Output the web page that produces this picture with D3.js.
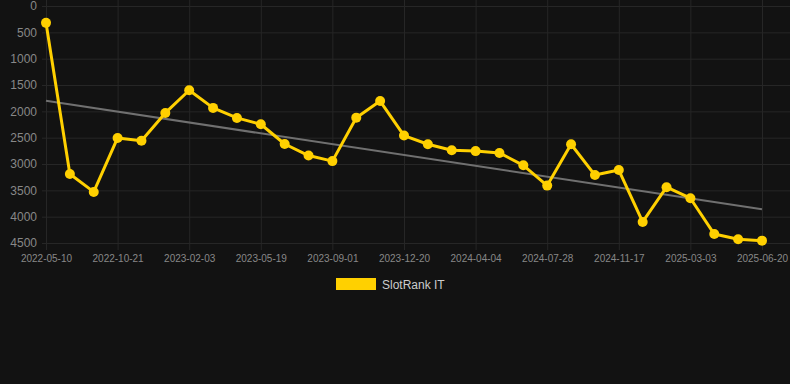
<!DOCTYPE html>
<html>
<head>
<meta charset="utf-8">
<script src="https://cdnjs.cloudflare.com/ajax/libs/d3/7.8.5/d3.min.js"></script>
<style>
    body { margin: 0; background: #121212; }
    svg { display: block; font-family: "Liberation Sans", Arial, sans-serif; }
    .axis path { display: none; }
</style>
</head>
<body>
<div id="chart"></div>
<script>
var dates = ["2022-05-10", "2022-06-24", "2022-08-30", "2022-10-21", "2022-11-26", "2022-12-30",
    "2023-02-03", "2023-03-10", "2023-04-14", "2023-05-19", "2023-06-23", "2023-07-28",
    "2023-09-01", "2023-10-10", "2023-11-15", "2023-12-20", "2024-01-24", "2024-02-28",
    "2024-04-04", "2024-05-12", "2024-06-20", "2024-07-28", "2024-09-03", "2024-10-10",
    "2024-11-17", "2024-12-22", "2025-01-27", "2025-03-03", "2025-04-08", "2025-05-14",
    "2025-06-20"];
var ranks = [320, 3190, 3530, 2505, 2560, 2030, 1600, 1935, 2125, 2245, 2620, 2840,
    2945, 2120, 1805, 2460, 2625, 2740, 2755, 2790, 3025, 3410, 2625, 3210,
    3115, 4100, 3440, 3650, 4330, 4430, 4455];
var trendEnds = [1800, 3860];
var yTicks = [0, 500, 1000, 1500, 2000, 2500, 3000, 3500, 4000, 4500];
var seriesName = "SlotRank IT";

var width = 790, height = 384;
var padding = { top: 6, right: 28, bottom: 141, left: 46 };

var svg = d3.select("#chart")
    .append("svg")
    .attr("width", width)
    .attr("height", height);

var xScale = d3.scalePoint()
    .domain(dates)
    .range([padding.left, width - padding.right]);
var yScale = d3.scaleLinear()
    .domain([0, 4500])
    .range([padding.top, height - padding.bottom]);

// vertical grid + x labels (every third date)
var xLabels = dates.filter(function(d, i) { return i % 3 == 0; });
var xAxis = d3.axisBottom()
    .scale(xScale)
    .tickValues(xLabels)
    .tickSize(height - padding.bottom + 7)
    .tickPadding(5);
svg.append("g")
    .attr("class", "axis")
    .attr("id", "x")
    .call(xAxis);
svg.select("#x").selectAll("line")
    .attr("stroke", "#262626");
svg.select("#x").selectAll("text")
    .attr("fill", "#888")
    .attr("font-size", "10px");

// horizontal grid + y labels
var yAxis = d3.axisLeft()
    .scale(yScale)
    .tickValues(yTicks)
    .tickFormat(d3.format("d"))
    .tickSize(0)
    .tickPadding(9);
svg.append("g")
    .attr("class", "axis")
    .attr("id", "y")
    .attr("transform", "translate(" + padding.left + ",0)")
    .call(yAxis);
svg.select("#y").selectAll(".tick")
    .append("line")
    .attr("x1", -4)
    .attr("x2", width - padding.left)
    .attr("stroke", "#262626");
svg.select("#y").selectAll("text")
    .attr("fill", "#888")
    .attr("font-size", "12px");

// trend line
svg.append("line")
    .attr("x1", xScale(dates[0]))
    .attr("y1", yScale(trendEnds[0]))
    .attr("x2", xScale(dates[dates.length - 1]))
    .attr("y2", yScale(trendEnds[1]))
    .attr("stroke", "#707070")
    .attr("stroke-width", 2);

// series line
var line = d3.line()
    .x(function(d, i) { return xScale(dates[i]); })
    .y(function(d) { return yScale(d); });
svg.append("path")
    .datum(ranks)
    .attr("fill", "none")
    .attr("stroke", "#ffd000")
    .attr("stroke-width", 3)
    .attr("stroke-linejoin", "round")
    .attr("d", line);

svg.append("g")
    .selectAll("circle")
    .data(ranks)
    .enter()
    .append("circle")
    .attr("cx", function(d, i) { return xScale(dates[i]); })
    .attr("cy", function(d) { return yScale(d); })
    .attr("r", 5)
    .attr("fill", "#ffd000");

// legend
var legend = svg.append("g")
    .attr("transform", "translate(336,278)");
legend.append("rect")
    .attr("width", 40)
    .attr("height", 12)
    .attr("fill", "#ffd000");
legend.append("text")
    .attr("x", 46)
    .attr("y", 11)
    .attr("fill", "#ccc")
    .attr("font-size", "12px")
    .text(seriesName);
</script>
</body>
</html>
